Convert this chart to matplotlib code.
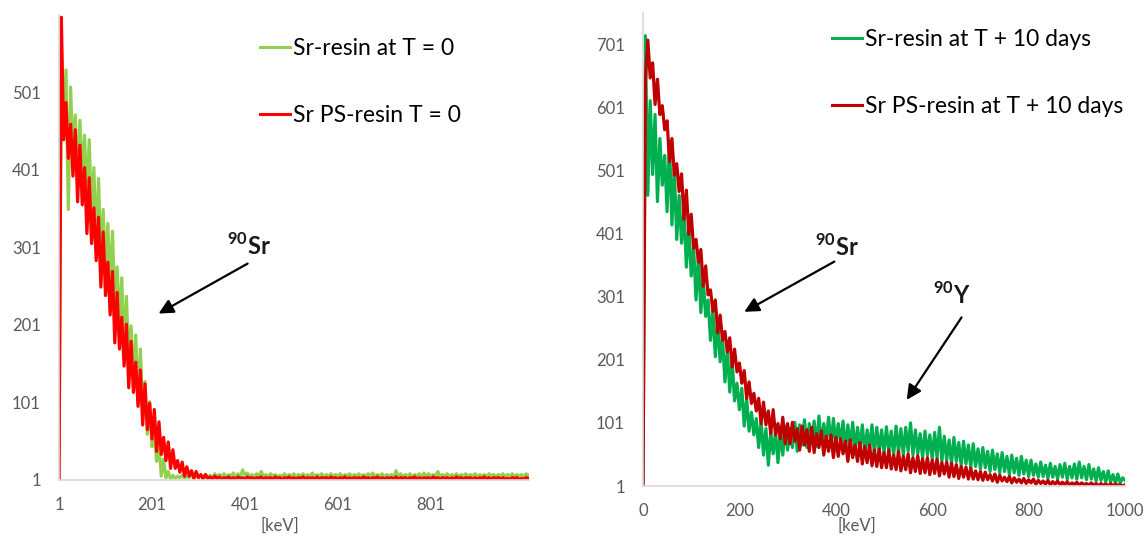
import numpy as np
import matplotlib
matplotlib.use("Agg")
import matplotlib.pyplot as plt

plt.rcParams['font.family'] = ['Lato', 'DejaVu Sans']
plt.rcParams['mathtext.fontset'] = 'custom'
plt.rcParams['mathtext.rm'] = 'Lato'
plt.rcParams['mathtext.bf'] = 'Lato:bold'

# -----------------------------
# Left panel: T = 0  (channels 1, 6, 11, ... keV)
# -----------------------------
left_green_label = "Sr-resin at T = 0"
left_red_label = "Sr PS-resin T = 0"

left_green = [
    0, 562, 460, 530, 350, 508, 415, 472, 382, 465,
    392, 446, 355, 440, 342, 404, 300, 390, 282, 350,
    266, 332, 245, 322, 228, 276, 202, 262, 166, 238,
    156, 200, 130, 188, 100, 170, 90, 128, 60, 102,
    44, 60, 25, 46, 6, 28, 4, 12, 2, 7,
    3, 6,
    4, 7, 3, 6, 4, 8, 3, 6, 5, 7,
    4, 8, 5, 7, 4, 9, 5, 8, 6, 9,
    5, 8, 6, 10, 5, 9, 6, 14, 7, 10,
    6, 8, 5, 9, 6, 12, 6, 8, 5, 9,
    6, 8, 5, 7, 6, 9, 5, 8, 6, 9,
    5, 8, 6, 9, 5, 8, 6, 10, 5, 8,
    6, 9, 5, 8, 6, 9, 5, 8, 6, 9,
    5, 8, 6, 9, 5, 8, 6, 9, 5, 8,
    6, 9, 6, 10, 5, 8, 6, 9, 5, 8,
    6, 8, 5, 13, 6, 9, 5, 8, 6, 9,
    5, 8, 6, 9, 5, 10, 6, 9, 5, 8,
    6, 12, 5, 8, 6, 9, 5, 8, 6, 9,
    5, 8, 6, 9, 5, 8, 6, 9, 5, 8,
    6, 8, 5, 9, 6, 8, 5, 8, 6, 9,
    5, 8, 6, 9, 5, 8, 6, 8, 5, 9,
    6,
]

left_red = [
    0, 598, 440, 488, 416, 460, 393, 453, 360, 433,
    356, 404, 319, 391, 306, 352, 284, 340, 250, 321,
    239, 282, 214, 270, 178, 243, 170, 211, 148, 202,
    120, 180, 114, 153, 96, 143, 72, 125, 66, 100,
    54, 92, 38, 76, 34, 56, 26, 50, 16, 40,
    16, 26, 11, 24, 6, 18, 6, 13, 3, 12,
    4, 8, 2, 8, 3, 5, 2, 6,
    3, 5, 2, 4, 3, 5, 2, 4, 2, 5,
    3, 4, 2, 5, 3, 4, 2, 4, 3, 5,
    2, 4, 3, 4, 2, 5, 3, 4, 2, 4,
    3, 5, 2, 4, 2, 4, 3, 5, 2, 4,
    3, 4, 2, 5, 2, 4, 3, 4, 2, 5,
    3, 4, 2, 4, 3, 5, 2, 4, 2, 4,
    3, 4, 2, 5, 3, 4, 2, 4, 3, 5,
    2, 4, 2, 4, 3, 4, 2, 5, 2, 4,
    3, 4, 2, 4, 3, 5, 2, 4, 2, 4,
    3, 4, 2, 5, 3, 4, 2, 4, 3, 4,
    2, 4, 2, 5, 3, 4, 2, 4, 3, 4,
    2, 4, 2, 4, 3, 5, 2, 4, 2, 4,
    3, 4, 2, 4, 2, 3, 2, 4, 3, 4,
    2, 3, 2, 4, 3,
]

left_xticks = [1, 201, 401, 601, 801]
left_yticks = [1, 101, 201, 301, 401, 501]

# -----------------------------
# Right panel: T + 10 days  (channels 0, 5, 10, ... keV)
# -----------------------------
right_green_label = "Sr-resin at T + 10 days"
right_red_label = "Sr PS-resin at T + 10 days"

right_green = [
    0, 715, 462, 612, 495, 590, 452, 552, 478, 525,
    436, 548, 415, 505, 392, 462, 386, 438, 348, 415,
    334, 380, 296, 366, 276, 328, 270, 296, 232, 280,
    206, 262, 198, 236, 166, 218, 150, 200, 136, 164,
    122, 156, 96, 140, 88, 118, 82, 108, 62, 104,
    50, 92, 34, 88, 52, 86, 38, 90, 50, 96,
    58, 92, 62, 102, 56, 98, 66, 106, 62, 100,
    70, 104, 64, 112, 68, 100, 72, 110, 64, 108,
    66, 100, 70, 104, 58, 98, 62, 102, 56, 94,
    60, 98, 54, 90, 58, 98, 52, 94, 56, 90,
    52, 95, 56, 88, 50, 96, 54, 92, 50, 94,
    56, 101, 50, 90, 52, 84, 46, 88, 50, 82,
    44, 86, 46, 94, 40, 80, 42, 74, 36, 78,
    40, 70, 34, 72, 36, 66, 30, 68, 32, 60,
    28, 62, 30, 56, 24, 58, 27, 52, 22, 54,
    24, 48, 19, 50, 22, 45, 18, 48, 20, 42,
    16, 42, 18, 36, 15, 39, 16, 34, 13, 37,
    15, 32, 12, 35, 15, 37, 12, 32, 14, 36,
    12, 39, 14, 32, 11, 35, 12, 28, 9, 30,
    10, 24, 7, 25, 8, 19, 5, 20, 6, 14,
    10,
]

right_red = [
    0, 645, 708, 648, 672, 606, 646, 590, 604, 566,
    580, 515, 552, 494, 512, 468, 496, 424, 470, 400,
    432, 378, 392, 356, 376, 318, 350, 304, 312, 278,
    296, 244, 272, 232, 246, 214, 236, 190, 218, 182,
    196, 164, 184, 140, 166, 132, 148, 120, 140, 100,
    134, 98, 120, 84, 122, 82, 100, 76, 110, 68,
    100, 68, 102, 72, 92, 58, 96, 66, 90, 56,
    94, 54, 84, 62, 88, 50, 80, 56, 82, 46,
    78, 48, 76, 52, 72, 40, 74, 46, 66, 40,
    70, 36, 64, 38, 66, 33, 58, 32, 60, 30,
    54, 30, 58, 28, 50, 27, 56, 25, 48, 27,
    52, 22, 46, 24, 49, 21, 44, 22, 46, 19,
    42, 21, 44, 17, 38, 20, 39, 15, 37, 16,
    35, 13, 32, 15, 31, 12, 29, 12, 25, 11,
    24, 10, 23, 11, 19, 9, 20, 7, 18, 9,
    15, 8, 16, 6, 14, 7, 12, 6, 13, 5,
    11, 6, 12, 4, 10, 5, 9, 4, 10, 3,
    8, 4, 9, 3, 7, 3, 8, 2, 6, 3,
    7, 2, 6, 3, 5, 2, 6, 2, 5, 1,
    5, 2, 4, 1, 5, 1, 4, 2, 3, 1,
    3,
]

right_xticks = [0, 200, 400, 600, 800, 1000]
right_yticks = [1, 101, 201, 301, 401, 501, 601, 701]

# channel grids
x_left_g = 1 + 5 * np.arange(len(left_green))
x_left_r = 1 + 5 * np.arange(len(left_red))
x_right_g = 5 * np.arange(len(right_green))
x_right_r = 5 * np.arange(len(right_red))

tick_color = "#595959"
axis_color = "#D9D9D9"
data_lw = 2.3

fig = plt.figure(figsize=(11.48, 5.39), dpi=100)
ax1 = fig.add_axes([0.0514, 0.1095, 0.4094, 0.8627])
ax2 = fig.add_axes([0.5601, 0.0983, 0.4199, 0.8776])


def style_axis(ax):
    for s in ["top", "right"]:
        ax.spines[s].set_visible(False)
    for s in ["left", "bottom"]:
        ax.spines[s].set_color(axis_color)
        ax.spines[s].set_linewidth(1.2)
    ax.tick_params(length=0, labelsize=12, colors=tick_color)
    ax.tick_params(axis="y", pad=13)
    ax.tick_params(axis="x", pad=12)


legend_kw = dict(bbox_transform=fig.transFigure, loc="upper left",
                 frameon=False, fontsize=16.5, handlelength=1.3,
                 handletextpad=0.15, labelspacing=2.0,
                 borderpad=0, borderaxespad=0)

# -----------------------------
# Left plot
# -----------------------------
ax1.plot(x_left_g, left_green, color="#92D050", lw=data_lw, label=left_green_label)
ax1.plot(x_left_r, left_red, color="#FF0000", lw=data_lw, label=left_red_label)
ax1.set_xlim(1, 1012)
ax1.set_ylim(1, 601)
ax1.set_xticks(left_xticks)
ax1.set_yticks(left_yticks)
style_axis(ax1)
leg1 = ax1.legend(bbox_to_anchor=(260 / 1148, 1 - 38 / 539), **legend_kw)
for h in leg1.get_lines():
    h.set_linewidth(2.2)

ax1.annotate("", xy=(210, 214), xytext=(412, 282),
             arrowprops=dict(arrowstyle="-|>", color="black", lw=1.6,
                             mutation_scale=22))
ax1.text(410, 303, r"$^{\mathbf{90}}$Sr", fontsize=17, fontweight="bold",
         ha="center", va="center", color="#1a1a1a")

# -----------------------------
# Right plot
# -----------------------------
ax2.plot(x_right_g, right_green, color="#00B050", lw=data_lw, label=right_green_label)
ax2.plot(x_right_r, right_red, color="#C00000", lw=data_lw, label=right_red_label)
ax2.set_xlim(0, 1000)
ax2.set_ylim(1, 751)
ax2.set_xticks(right_xticks)
ax2.set_yticks(right_yticks)
style_axis(ax2)
leg2 = ax2.legend(bbox_to_anchor=(832 / 1148, 1 - 29 / 539), **legend_kw)
for h in leg2.get_lines():
    h.set_linewidth(2.2)

ax2.annotate("", xy=(205, 275), xytext=(402, 359),
             arrowprops=dict(arrowstyle="-|>", color="black", lw=1.6,
                             mutation_scale=22))
ax2.text(402, 380, r"$^{\mathbf{90}}$Sr", fontsize=17, fontweight="bold",
         ha="center", va="center", color="#1a1a1a")
ax2.annotate("", xy=(544, 134), xytext=(664, 272),
             arrowprops=dict(arrowstyle="-|>", color="black", lw=1.6,
                             mutation_scale=22))
ax2.text(641, 304, r"$^{\mathbf{90}}$Y", fontsize=17, fontweight="bold",
         ha="center", va="center", color="#1a1a1a")

# axis unit labels
fig.text(280 / 1148, 1 - 526 / 539, "[keV]", fontsize=12, color=tick_color,
         ha="center", va="center")
fig.text(857 / 1148, 1 - 526 / 539, "[keV]", fontsize=12, color=tick_color,
         ha="center", va="center")

fig.savefig("out.png", dpi=100)
